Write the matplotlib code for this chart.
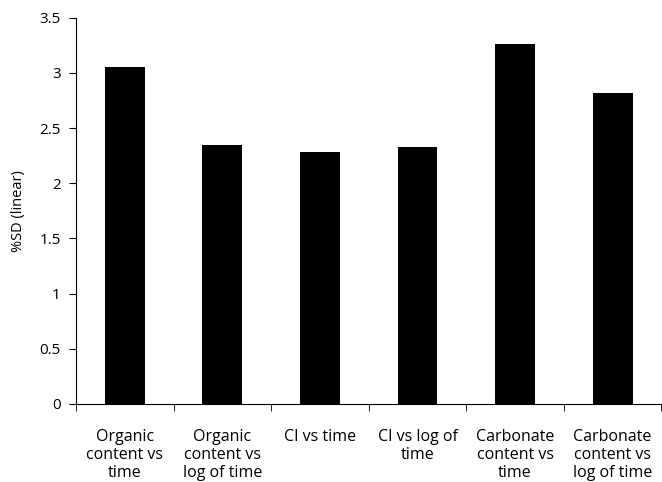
import matplotlib
matplotlib.use("Agg")
import matplotlib.pyplot as plt
import numpy as np

# Data
categories = [
    "Organic\ncontent vs\ntime",
    "Organic\ncontent vs\nlog of time",
    "CI vs time",
    "CI vs log of\ntime",
    "Carbonate\ncontent vs\ntime",
    "Carbonate\ncontent vs\nlog of time",
]
sd_values = [3.05, 2.35, 2.28, 2.33, 3.26, 2.82]
y_ticks = [0, 0.5, 1, 1.5, 2, 2.5, 3, 3.5]
y_tick_labels = ["0", "0.5", "1", "1.5", "2", "2.5", "3", "3.5"]

plt.rcParams["font.family"] = ["Open Sans", "DejaVu Sans"]

fig = plt.figure(figsize=(6.62, 4.82), dpi=100)
ax = fig.add_axes([0.115, 0.162, 0.884, 0.801])

x = np.arange(len(categories))
ax.bar(x, sd_values, width=0.41, color="black")

ax.set_xlim(-0.5, len(categories) - 0.5)
ax.set_ylim(0, 3.5)
ax.set_yticks(y_ticks)
ax.set_yticklabels(y_tick_labels, fontsize=11)
ax.set_ylabel("%SD (linear)", fontsize=10.5, labelpad=10)

ax.set_xticks(x)
ax.set_xticklabels(categories, fontsize=11.5, linespacing=1.15)
ax.set_xticks(np.arange(len(categories) + 1) - 0.5, minor=True)
ax.tick_params(axis="x", which="major", length=0, pad=18)
ax.tick_params(axis="x", which="minor", length=5, direction="out")
ax.tick_params(axis="y", length=5, direction="out", pad=6)

ax.spines["top"].set_visible(False)
ax.spines["right"].set_visible(False)

fig.savefig("out.png", dpi=100)
